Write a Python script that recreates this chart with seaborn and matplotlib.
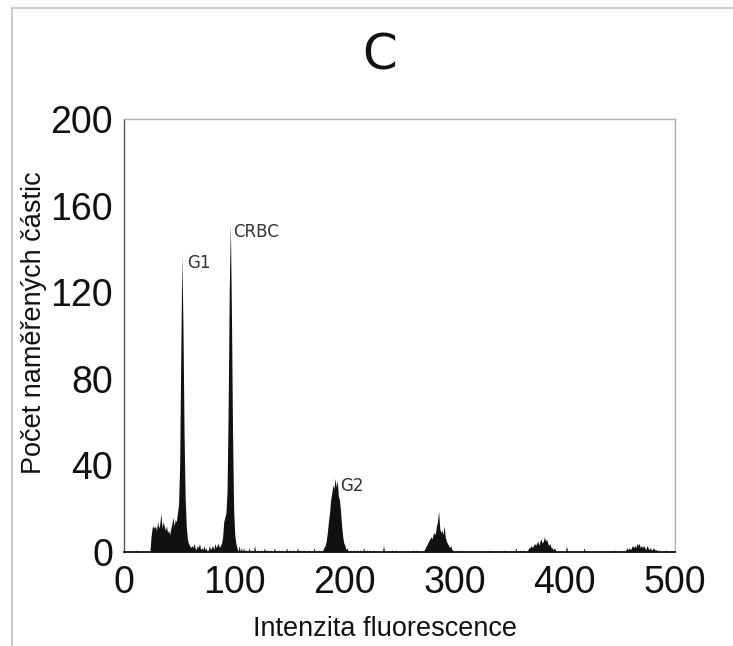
import numpy as np
import pandas as pd
import matplotlib
matplotlib.use("Agg")
import matplotlib.pyplot as plt
import seaborn as sns
from matplotlib.lines import Line2D

# ---------------- data ----------------
# channel 23..102 : debris, G1 peak and CRBC peak
main_channels = list(range(23, 103))
main_counts = [0, 7, 11, 12, 11, 12, 10, 14, 11, 13,
               18, 11, 14, 12, 10, 12, 9, 10, 8, 11,
               13, 16, 12, 15, 14, 18, 22, 40, 90, 137,
               105, 55, 25, 12, 6, 4, 3, 2, 3, 2,
               4, 2, 1, 3, 2, 4, 1, 2, 1, 3,
               1, 2, 0, 1, 3, 1, 2, 3, 1, 4,
               2, 3, 4, 2, 3, 4, 7, 14, 16, 18,
               28, 65, 120, 152, 110, 55, 20, 8, 4, 2]

# G2 peak
g2_channels = list(range(180, 203))
g2_counts = [1, 2, 3, 5, 9, 14, 18, 24, 27, 31,
             29, 34, 30, 33, 26, 24, 19, 12, 7, 4,
             3, 1, 2]

# third peak (~285)
p4_channels = list(range(272, 299))
p4_counts = [1, 2, 3, 4, 5, 6, 7, 6, 8, 9,
             8, 12, 14, 19, 11, 9, 10, 8, 12, 7,
             5, 4, 3, 2, 3, 1, 1]

# fourth peak (~380)
p5_channels = list(range(366, 392))
p5_counts = [1, 2, 2, 3, 2, 3, 4, 3, 4, 5,
             3, 5, 6, 4, 5, 7, 5, 6, 4, 3,
             4, 2, 2, 1, 2, 1]

# fifth peak (~466)
p6_channels = list(range(455, 486))
p6_counts = [1, 2, 1, 2, 1, 2, 3, 2, 3, 2,
             4, 3, 4, 2, 3, 2, 3, 2, 1, 3,
             2, 1, 2, 1, 1, 2, 1, 1, 1, 0, 1]

# isolated background events
noise_channels = [11, 104, 106, 108, 110, 113, 115, 118, 121, 124, 127, 129,
                  133, 136, 140, 143, 147, 150, 153, 157, 160, 163, 167, 172,
                  176, 205, 208, 211, 214, 217, 220, 223, 226, 235, 243, 246,
                  262, 265, 303, 306, 331, 344, 355, 359, 362, 401, 417, 444,
                  491]
noise_counts = [1, 3, 2, 2, 1, 2, 1, 3, 1, 1, 2, 1,
                1, 2, 1, 1, 2, 1, 1, 2, 1, 1, 1, 2,
                1, 1, 1, 1, 1, 2, 1, 1, 1, 3, 1, 1,
                1, 1, 1, 1, 1, 1, 2, 1, 1, 3, 2, 1,
                1]

peak_labels = ["G1", "CRBC", "G2"]
label_x = [56.9, 98.6, 196.0]
label_y = [133.5, 147.6, 30.5]

x_ticks = [0, 100, 200, 300, 400, 500]
y_ticks = [0, 40, 80, 120, 160, 200]

title_text = "C"
x_label = "Intenzita fluorescence"
y_label = "Počet naměřených částic"

# ---------------- build table ----------------
df = pd.DataFrame({
    "channel": main_channels + g2_channels + p4_channels + p5_channels
               + p6_channels + noise_channels,
    "count": main_counts + g2_counts + p4_counts + p5_counts
             + p6_counts + noise_counts,
})
df["channel"] = df["channel"] + 0.5

# ---------------- plot ----------------
sns.set_style("white")
plt.rcParams["font.family"] = ["Liberation Sans", "DejaVu Sans"]

fig = plt.figure(figsize=(7.33, 6.46), dpi=100)
ax = fig.add_axes([124 / 733, 94 / 646, 551 / 733, 433 / 646])

sns.histplot(data=df, x="channel", weights="count", binwidth=1,
             binrange=(0, 500), element="poly", fill=True,
             color="#111111", alpha=1, linewidth=0, ax=ax)

ax.set_xlim(0, 500)
ax.set_ylim(0, 200)
ax.set_xticks(x_ticks)
ax.set_yticks(y_ticks)
ax.tick_params(axis="y", direction="in", length=6, width=0.8,
               color="#888888", labelsize=27, pad=8, labelcolor="#111111")
ax.tick_params(axis="x", direction="out", length=4.5, width=0.8,
               color="#888888", labelsize=27, pad=5, labelcolor="#111111")

for side in ["top", "right"]:
    ax.spines[side].set_visible(True)
    ax.spines[side].set_color("#b0b0b0")
    ax.spines[side].set_linewidth(1.0)
ax.spines["left"].set_color("#555555")
ax.spines["left"].set_linewidth(1.0)
ax.spines["bottom"].set_color("#111111")
ax.spines["bottom"].set_linewidth(1.3)

ax.set_xlabel(x_label, fontsize=19.5, color="#111111")
ax.set_ylabel(y_label, fontsize=19.5, color="#111111")
ax.xaxis.set_label_coords(0.474, -0.148)
ax.yaxis.set_label_coords(-0.14, 0.53)

for t, lx, ly in zip(peak_labels, label_x, label_y):
    ax.text(lx, ly, t, fontsize=12, ha="left", va="center", color="#333333",
            family=["DejaVu Sans"])

fig.text(380 / 733, 1 - 55 / 646, title_text, fontsize=36, ha="center",
         va="center", color="#111111", family=["DejaVu Sans"])

# outer frame lines of the original panel
fig.add_artist(Line2D([12 / 733, 12 / 733], [0, 1 - 8 / 646],
                      transform=fig.transFigure, color="#c0c0c0", lw=1.2))
fig.add_artist(Line2D([12 / 733, 1], [1 - 8 / 646, 1 - 8 / 646],
                      transform=fig.transFigure, color="#c0c0c0", lw=1.2))

fig.savefig("out.png", dpi=100, facecolor="white")
